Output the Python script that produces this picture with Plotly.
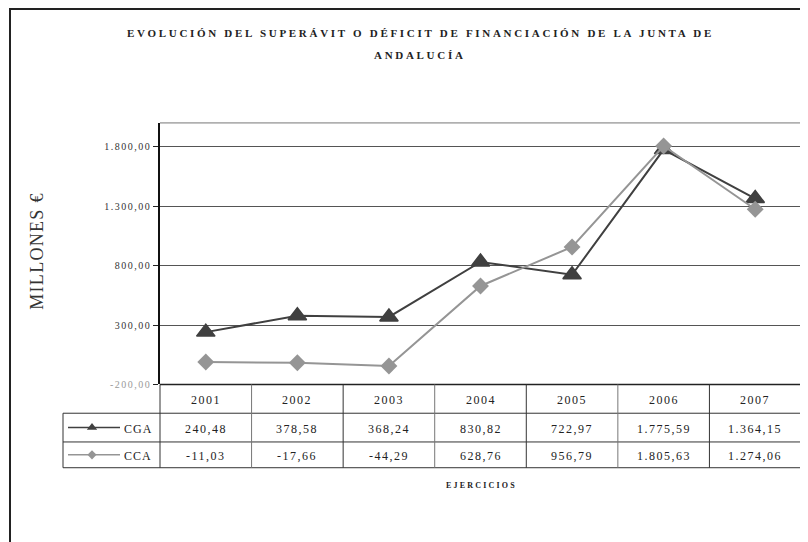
import plotly.graph_objects as go

# data
years = ["2001", "2002", "2003", "2004", "2005", "2006", "2007"]
cga = [240.48, 378.58, 368.24, 830.82, 722.97, 1775.59, 1364.15]
cca = [-11.03, -17.66, -44.29, 628.76, 956.79, 1805.63, 1274.06]
y_ticks = [-200, 300, 800, 1300, 1800]

W, H = 808, 542
OFF = 8  # page body margin in the browser
FONT = "Liberation Serif"
DARK = "#404040"
LIGHT = "#959595"

# plot area / table geometry in pixels (as seen on the page)
PL, PR, PT, PB = 160, 801, 124, 388
LEG_L = 63
ROWS = [388, 417, 446, 472]


def px(x):
    return (x - OFF) / W


def py(y):
    return 1 - (y - OFF) / H


def es(v):
    # spanish number format: 1.234,56
    s = f"{v:,.2f}"
    return s.replace(",", "X").replace(".", ",").replace("X", ".")


def spaced(s, sp):
    return f"<span style='letter-spacing:{sp}px'>{s}</span>"


fig = go.Figure()

fig.add_trace(go.Scatter(
    x=years, y=cga, name="CGA", mode="lines+markers",
    line=dict(color=DARK, width=2),
    marker=dict(symbol="triangle-up", size=16, color=DARK, line=dict(color=DARK, width=1.5)),
))
fig.add_trace(go.Scatter(
    x=years, y=cca, name="CCA", mode="lines+markers",
    line=dict(color=LIGHT, width=2),
    marker=dict(symbol="diamond", size=13, color=LIGHT),
))

shapes = []
annotations = []


def hline(x0, x1, y, color="#333", width=1):
    shapes.append(dict(type="line", xref="paper", yref="paper",
                       x0=px(x0), x1=px(x1), y0=py(y), y1=py(y),
                       line=dict(color=color, width=width)))


def vline(x, y0, y1, color="#333", width=1):
    shapes.append(dict(type="line", xref="paper", yref="paper",
                       x0=px(x), x1=px(x), y0=py(y0), y1=py(y1),
                       line=dict(color=color, width=width)))


def text(x, y, s, size=12, color="#222", bold=False, xanchor="center", sp=1):
    annotations.append(dict(x=px(x), y=py(y), xref="paper", yref="paper",
                            text=spaced(s, sp), showarrow=False, xanchor=xanchor, yanchor="middle",
                            font=dict(family=FONT, size=size, color=color,
                                      weight="bold" if bold else "normal")))


# outer chart frame
shapes.append(dict(type="rect", xref="paper", yref="paper",
                   x0=px(10), x1=px(840), y0=py(9), y1=py(580),
                   line=dict(color="#222", width=2)))
# plot area border (top/right)
hline(PL, PR, PT, color="#777")
vline(PR, PT, PB, color="#777")

# data table
col_w = (PR - PL) / len(years)
hline(PL, PR, ROWS[0], color="#222", width=1.5)
for r in ROWS[1:]:
    hline(LEG_L, PR, r, color="#333")
vline(LEG_L, ROWS[1], ROWS[3], color="#333")
for i in range(len(years) + 1):
    vline(PL + i * col_w, ROWS[0], ROWS[3], color="#333" if i % 2 == 0 else "#777")

for i, yr in enumerate(years):
    cx = PL + (i + 0.5) * col_w
    text(cx, (ROWS[0] + ROWS[1]) / 2 + 1, yr, size=12, sp=1.5)
    text(cx, (ROWS[1] + ROWS[2]) / 2 + 1, es(cga[i]), size=12, sp=1.5)
    text(cx, (ROWS[2] + ROWS[3]) / 2 + 1, es(cca[i]), size=12, sp=1.5)

text(122, (ROWS[1] + ROWS[2]) / 2 + 1, "CGA", xanchor="left", size=12, sp=1)
text(122, (ROWS[2] + ROWS[3]) / 2 + 1, "CCA", xanchor="left", size=12, sp=1)

# legend keys inside the table (extra axes in page pixel units)
for name, r, color, sym, size in [("CGA", 1, DARK, "triangle-up", 9), ("CCA", 2, LIGHT, "diamond", 7)]:
    cy = (ROWS[r] + ROWS[r + 1]) / 2
    fig.add_trace(go.Scatter(
        x=[68, 120], y=[cy, cy], mode="lines", xaxis="x2", yaxis="y2",
        line=dict(color=color, width=1.5), hoverinfo="skip", showlegend=False))
    fig.add_trace(go.Scatter(
        x=[92], y=[cy], mode="markers", xaxis="x2", yaxis="y2",
        marker=dict(symbol=sym, size=size, color=color), hoverinfo="skip", showlegend=False))

# titles
text(420, 33, "EVOLUCIÓN DEL SUPERÁVIT O DÉFICIT DE FINANCIACIÓN DE LA JUNTA DE", size=11, bold=True, sp=2.7)
text(420, 55, "ANDALUCÍA", size=11, bold=True, sp=2.7)
text(481, 490, "EJERCICIOS", size=8, bold=True, sp=2.2)
annotations.append(dict(x=px(37), y=py(253), xref="paper", yref="paper",
                        text=spaced("MILLONES €", 1.3), showarrow=False, textangle=-90,
                        xanchor="center", yanchor="middle",
                        font=dict(family=FONT, size=18, color="#333")))

tick_text = [spaced(f"<span style='fill:#999'>{es(v)}</span>", 1.5) if v < 0 else spaced(es(v), 1.5)
             for v in y_ticks]

fig.update_layout(
    width=W, height=H,
    margin=dict(l=0, r=0, t=0, b=0),
    paper_bgcolor="white", plot_bgcolor="rgba(0,0,0,0)",
    showlegend=False,
    shapes=shapes, annotations=annotations,
    xaxis=dict(domain=[px(PL), px(PR)], type="category", range=[-0.5, 6.5],
               showticklabels=False, showgrid=False, zeroline=False, ticks=""),
    yaxis=dict(domain=[py(PB), py(PT)], range=[-200, 2000],
               tickvals=y_ticks, ticktext=tick_text,
               ticks="outside", ticklen=5, tickcolor="#222",
               showline=True, linecolor="#111", linewidth=1.5,
               showgrid=True, gridcolor="#555", gridwidth=1, zeroline=False,
               tickfont=dict(family=FONT, size=10, color="#333")),
    xaxis2=dict(domain=[0, 1], range=[OFF, W + OFF], visible=False, fixedrange=True,
                anchor="y2"),
    yaxis2=dict(domain=[0, 1], range=[H + OFF, OFF], visible=False, fixedrange=True,
                anchor="x2"),
)

fig.write_html("out.html")
